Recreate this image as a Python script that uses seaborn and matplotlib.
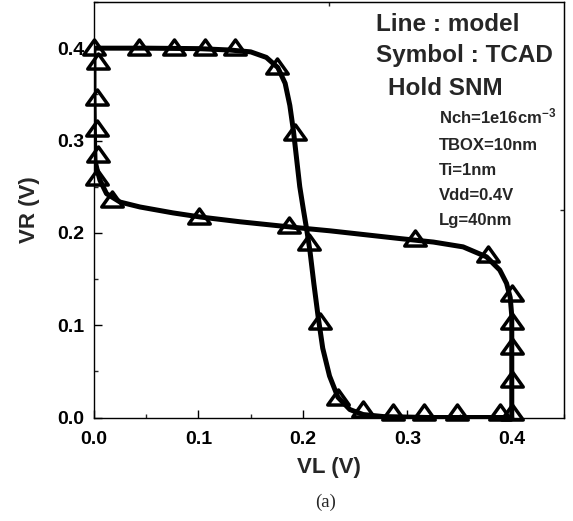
import matplotlib
matplotlib.use("Agg")
import matplotlib.pyplot as plt
from matplotlib.path import Path
from matplotlib.ticker import MultipleLocator, FormatStrFormatter
import seaborn as sns
import pandas as pd

# ---- data ----
model_fwd_vl = [0.000, 0.050, 0.100, 0.130, 0.150, 0.165, 0.176, 0.183, 0.1875, 0.191, 0.194,
                0.197, 0.2005, 0.2035, 0.2067, 0.2105, 0.2145, 0.219, 0.2255, 0.2335, 0.245,
                0.2577, 0.277, 0.320, 0.400]
model_fwd_vr = [0.400, 0.400, 0.3995, 0.398, 0.396, 0.390, 0.379, 0.362, 0.338, 0.310, 0.280,
                0.250, 0.225, 0.2046, 0.181, 0.145, 0.110, 0.075, 0.045, 0.022, 0.0086,
                0.0032, 0.001, 0.000, 0.000]

model_rev_vl = [0.000, 0.000, 0.0005, 0.001, 0.0035, 0.0057, 0.012, 0.025, 0.044, 0.0756, 0.1014,
                0.1397, 0.178, 0.2035, 0.2258, 0.2928, 0.325, 0.3534, 0.3758, 0.3885, 0.395,
                0.3985, 0.400, 0.400]
model_rev_vr = [0.400, 0.350, 0.300, 0.278, 0.266, 0.257, 0.2424, 0.2333, 0.228, 0.2216, 0.2172,
                0.212, 0.2075, 0.2046, 0.2022, 0.1938, 0.190, 0.1848, 0.174, 0.1597, 0.1453,
                0.130, 0.110, 0.000]

tcad_fwd_vl = [0.000, 0.043, 0.077, 0.106, 0.135, 0.175, 0.192, 0.206, 0.216, 0.234, 0.258,
               0.286, 0.316, 0.348, 0.389]
tcad_fwd_vr = [0.401, 0.401, 0.401, 0.401, 0.401, 0.381, 0.309, 0.190, 0.105, 0.022, 0.009,
               0.006, 0.006, 0.006, 0.006]

tcad_rev_vl = [0.004, 0.003, 0.003, 0.004, 0.003, 0.017, 0.101, 0.187, 0.307, 0.377, 0.400,
               0.400, 0.400, 0.400, 0.400]
tcad_rev_vr = [0.386, 0.347, 0.314, 0.285, 0.260, 0.237, 0.218, 0.209, 0.194, 0.177, 0.135,
               0.105, 0.077, 0.042, 0.006]

x_ticks = [0.0, 0.1, 0.2, 0.3, 0.4]
y_ticks = [0.0, 0.1, 0.2, 0.3, 0.4]

legend_lines = ["Line : model", "Symbol : TCAD", "Hold SNM"]
param_lines = ["Nch=1e16cm$^{-3}$", "TBOX=10nm", "Ti=1nm", "Vdd=0.4V", "Lg=40nm"]

# ---- style ----
sns.set_style("ticks")
plt.rcParams["font.family"] = ["Liberation Sans", "DejaVu Sans"]
plt.rcParams["font.weight"] = "bold"
plt.rcParams["mathtext.fontset"] = "custom"
plt.rcParams["mathtext.rm"] = "Liberation Sans:bold"
plt.rcParams["mathtext.it"] = "Liberation Sans:bold"
plt.rcParams["mathtext.bf"] = "Liberation Sans:bold"
plt.rcParams["mathtext.default"] = "rm"

fig = plt.figure(figsize=(5.73, 5.21), dpi=100)
W, H = 573, 521
ax = fig.add_axes([94 / W, 1 - 417.5 / H, 470 / W, 415.5 / H])

tri = Path([(0, 0.7), (-1, -0.7), (1, -0.7), (0, 0.7)],
           [Path.MOVETO, Path.LINETO, Path.LINETO, Path.CLOSEPOLY])

for vl, vr in [(model_fwd_vl, model_fwd_vr), (model_rev_vl, model_rev_vr)]:
    df = pd.DataFrame({"VL": vl, "VR": vr})
    sns.lineplot(data=df, x="VL", y="VR", sort=False, estimator=None, color="black",
                 lw=3.6, ax=ax, solid_joinstyle="round")

for vl, vr in [(tcad_fwd_vl, tcad_fwd_vr), (tcad_rev_vl, tcad_rev_vr)]:
    df = pd.DataFrame({"VL": vl, "VR": vr})
    sns.lineplot(data=df, x="VL", y="VR", sort=False, estimator=None, color="black",
                 linestyle="", marker=tri, ms=15.5, mfc="none", mec="black", mew=2.5,
                 ax=ax, clip_on=False, zorder=5)

ax.set_xlim(0, 0.45)
ax.set_ylim(0, 0.45)
ax.set_xticks(x_ticks)
ax.set_yticks(y_ticks)
ax.xaxis.set_minor_locator(MultipleLocator(0.05))
ax.yaxis.set_minor_locator(MultipleLocator(0.05))
ax.xaxis.set_major_formatter(FormatStrFormatter("%.1f"))
ax.yaxis.set_major_formatter(FormatStrFormatter("%.1f"))
ax.tick_params(which="major", direction="in", length=6, width=1.0, labelsize=14, colors="black")
ax.tick_params(which="minor", direction="in", length=3.2, width=1.0)
ax.tick_params(axis="x", which="major", pad=10)
ax.tick_params(axis="y", which="major", pad=7)
for lab in ax.get_xticklabels() + ax.get_yticklabels():
    lab.set_fontweight("bold")
for sp in ax.spines.values():
    sp.set_visible(True)
    sp.set_linewidth(1.0)
    sp.set_color("black")

secx = ax.secondary_xaxis("top")
secx.set_xticks([0.225])
secx.tick_params(direction="in", length=3, width=1.0, labeltop=False)
secy = ax.secondary_yaxis("right")
secy.set_yticks([0.225])
secy.tick_params(direction="in", length=3, width=1.0, labelright=False)

ax.set_xlabel("VL (V)", fontsize=16, fontweight="bold")
ax.set_ylabel("VR (V)", fontsize=16, fontweight="bold")
ax.xaxis.label.set_va("center")
ax.yaxis.label.set_va("center")
ax.xaxis.set_label_coords(0.5, (417.5 - 467) / 415.5)
ax.yaxis.set_label_coords((29 - 94) / 470, 0.5)

big_x = [0.599, 0.599, 0.6247]
big_y = [0.931, 0.8565, 0.7764]
for t, x, y in zip(legend_lines, big_x, big_y):
    ax.text(x, y, t, transform=ax.transAxes, fontsize=17.5, fontweight="bold",
            ha="left", va="baseline")

par_y = [0.7084, 0.644, 0.584, 0.524, 0.464]
for t, y in zip(param_lines, par_y):
    ax.text(0.734, y, t, transform=ax.transAxes, fontsize=12, fontweight="bold",
            ha="left", va="baseline")

fig.text(326 / W, 1 - 502 / H, "(a)", family="Liberation Serif", fontsize=13.5,
         fontweight="normal", ha="center", va="center")

fig.savefig("out.png", dpi=100)
